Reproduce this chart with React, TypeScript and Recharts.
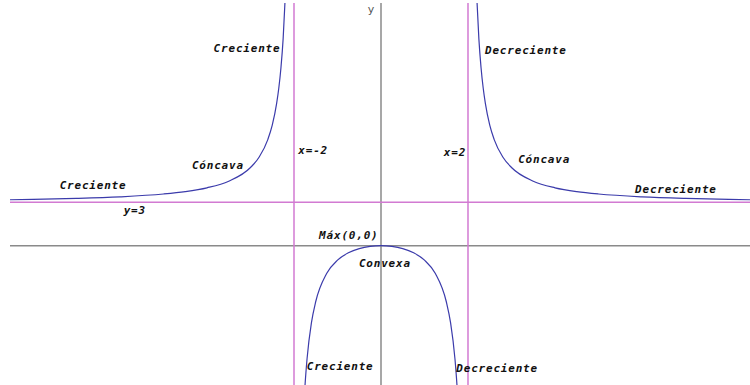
import React from "react";
import { LineChart, Line, XAxis, YAxis, ReferenceLine, ReferenceDot } from "recharts";

// Branch to the left of the asymptote x = -2
const leftX = [-8.6, -8, -7, -6, -5, -4.5, -4, -3.5, -3, -2.8, -2.6, -2.5, -2.4, -2.35, -2.3, -2.25, -2.2];
const leftY = [3.17, 3.2, 3.267, 3.375, 3.571, 3.738, 4.0, 4.455, 5.4, 6.125, 7.348, 8.333, 9.818, 10.88, 12.3, 14.29, 17.29];

// Central branch between the asymptotes (maximum at (0,0))
const midX = [-1.8, -1.75, -1.7, -1.6, -1.5, -1.25, -1, -0.75, -0.5, -0.25, 0, 0.25, 0.5, 0.75, 1, 1.25, 1.5, 1.6, 1.7, 1.75, 1.8];
const midY = [-12.79, -9.8, -7.811, -5.333, -3.857, -1.923, -1.0, -0.491, -0.2, -0.048, 0, -0.048, -0.2, -0.491, -1.0, -1.923, -3.857, -5.333, -7.811, -9.8, -12.79];

// Branch to the right of the asymptote x = 2
const rightX = [2.2, 2.25, 2.3, 2.35, 2.4, 2.5, 2.6, 2.8, 3, 3.5, 4, 4.5, 5, 6, 7, 8, 8.6];
const rightY = [17.29, 14.29, 12.3, 10.88, 9.818, 8.333, 7.348, 6.125, 5.4, 4.455, 4.0, 3.738, 3.571, 3.375, 3.267, 3.2, 3.17];

// Asymptotes
const verticalAsymptotes = [-2, 2];
const horizontalAsymptote = 3;

// Annotations (text, x, y in data units)
const annTexts = ["Creciente", "Decreciente", "Cóncava", "x=-2", "x=2", "Cóncava", "Creciente", "Decreciente", "y=3", "Máx(0,0)", "Convexa", "Creciente", "Decreciente"];
const annX = [-3.08, 3.33, -3.75, -1.56, 1.70, 3.75, -6.62, 6.78, -5.66, -0.74, 0.09, -0.94, 2.67];
const annY = [13.65, 13.52, 5.54, 6.55, 6.47, 5.99, 4.13, 3.85, 2.40, 0.67, -1.26, -8.37, -8.52];

const zip = (xs: number[], ys: number[]) => xs.map((x, i) => ({ x, y: ys[i] }));
const leftData = zip(leftX, leftY);
const midData = zip(midX, midY);
const rightData = zip(rightX, rightY);

const CURVE = "#3b3bab";
const ASYM = "#d27ad2";
const AXIS = "#8a8a8a";

const makeLabel = (text: string, opts: { italic?: boolean; color?: string; size?: number; family?: string; bold?: boolean; spacing?: number } = {}) =>
  (props: any) => {
    const vb = props.viewBox || {};
    const cx = (vb.x ?? 0) + (vb.width ?? 0) / 2;
    const cy = (vb.y ?? 0) + (vb.height ?? 0) / 2;
    return (
      <text
        x={cx}
        y={cy}
        textAnchor="middle"
        dominantBaseline="central"
        fill={opts.color ?? "#111"}
        fontFamily={opts.family ?? "'DejaVu Sans Mono', monospace"}
        fontStyle={opts.italic === false ? "normal" : "italic"}
        fontWeight={opts.bold === false ? "normal" : "bold"}
        fontSize={opts.size ?? 11}
        letterSpacing={opts.spacing ?? 0.8}
      >
        {text}
      </text>
    );
  };

export default function App() {
  return (
    <div style={{ position: "absolute", left: 0, top: 0, width: 750, height: 385, background: "#fff" }}>
      <LineChart width={750} height={385} margin={{ top: 3, right: 0, left: 10, bottom: 0 }}>
        <XAxis type="number" dataKey="x" domain={[-8.529, 8.483]} hide allowDataOverflow />
        <YAxis type="number" dataKey="y" domain={[-9.627, 16.77]} hide allowDataOverflow />
        <ReferenceLine y={0} stroke={AXIS} strokeWidth={1.5} />
        <ReferenceLine x={0} stroke={AXIS} strokeWidth={1.5} />
        {verticalAsymptotes.map((v) => (
          <ReferenceLine key={"va" + v} x={v} stroke={ASYM} strokeWidth={1.5} />
        ))}
        <ReferenceLine y={horizontalAsymptote} stroke={ASYM} strokeWidth={1.5} />
        <Line data={leftData} dataKey="y" type="monotone" stroke={CURVE} strokeWidth={1.2} dot={false} isAnimationActive={false} />
        <Line data={midData} dataKey="y" type="monotone" stroke={CURVE} strokeWidth={1.2} dot={false} isAnimationActive={false} />
        <Line data={rightData} dataKey="y" type="monotone" stroke={CURVE} strokeWidth={1.2} dot={false} isAnimationActive={false} />
        {annTexts.map((t, i) => (
          <ReferenceDot key={"a" + i} x={annX[i]} y={annY[i]} r={0} fill="none" stroke="none" label={makeLabel(t)} />
        ))}
        <ReferenceDot x={-0.23} y={16.29} r={0} fill="none" stroke="none"
          label={makeLabel("y", { italic: false, bold: false, color: "#555", size: 11, family: "'DejaVu Sans', sans-serif", spacing: 0 })} />
      </LineChart>
    </div>
  );
}
